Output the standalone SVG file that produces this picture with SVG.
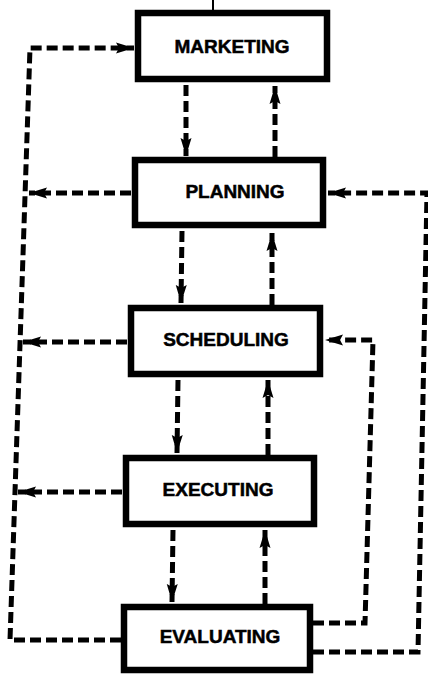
<svg xmlns="http://www.w3.org/2000/svg" width="428" height="677" viewBox="0 0 428 677">
<style>
.box{fill:#fff;stroke:#000;stroke-width:6.5}
.lbl{font-family:"Liberation Sans",Arial,sans-serif;font-weight:bold;font-size:19px;fill:#000;stroke:#000;stroke-width:0.5;text-anchor:middle}
.dl{fill:none;stroke:#000;stroke-width:5;stroke-dasharray:11 5;stroke-linejoin:miter}
.arr{marker-end:url(#ah)}
</style>
<defs>
<marker id="ah" markerUnits="userSpaceOnUse" markerWidth="20" markerHeight="12" refX="18" refY="6" orient="auto">
<path d="M0,0.5 L18,6 L0,11.5 L3,6 z" fill="#000"/>
</marker>
</defs>
<rect width="428" height="677" fill="#fff"/>
<g id="connectors">
<line x1="213" y1="0" x2="213" y2="10" stroke="#000" stroke-width="2"/>
<path class="dl arr" d="M186 85 L186 156"/>
<path class="dl arr" d="M275 157 L275 86"/>
<path class="dl arr" d="M182 231 L181 303"/>
<path class="dl arr" d="M272 305 L272 233"/>
<path class="dl arr" d="M178 380 L177 453"/>
<path class="dl arr" d="M268 455 L268 380"/>
<path class="dl arr" d="M173 530 L172 602"/>
<path class="dl arr" d="M265 604 L265 530"/>
<path class="dl arr" d="M131 193 L29 193"/>
<path class="dl arr" d="M127 342 L23 342"/>
<path class="dl arr" d="M122 492 L18 492"/>
<path class="dl arr" d="M121 640 L10 640 L30 48 L134 48"/>
<path class="dl arr" d="M313 623 L365 623 L373 340 L325 340"/>
<path class="dl arr" d="M313 652 L418 652 L427 193 L328 193"/>
</g>
<g id="marketing">
<rect class="box" x="138" y="13" width="189" height="66"/>
<text class="lbl" x="232" y="53">MARKETING</text>
</g>
<g id="planning">
<rect class="box" x="135" y="160" width="188" height="65"/>
<text class="lbl" x="235" y="198">PLANNING</text>
</g>
<g id="scheduling">
<rect class="box" x="131" y="308" width="189" height="66"/>
<text class="lbl" x="226" y="346">SCHEDULING</text>
</g>
<g id="executing">
<rect class="box" x="126" y="458" width="188" height="66"/>
<text class="lbl" x="218" y="496">EXECUTING</text>
</g>
<g id="evaluating">
<rect class="box" x="124" y="607" width="186" height="63"/>
<text class="lbl" x="220" y="643">EVALUATING</text>
</g>
</svg>
